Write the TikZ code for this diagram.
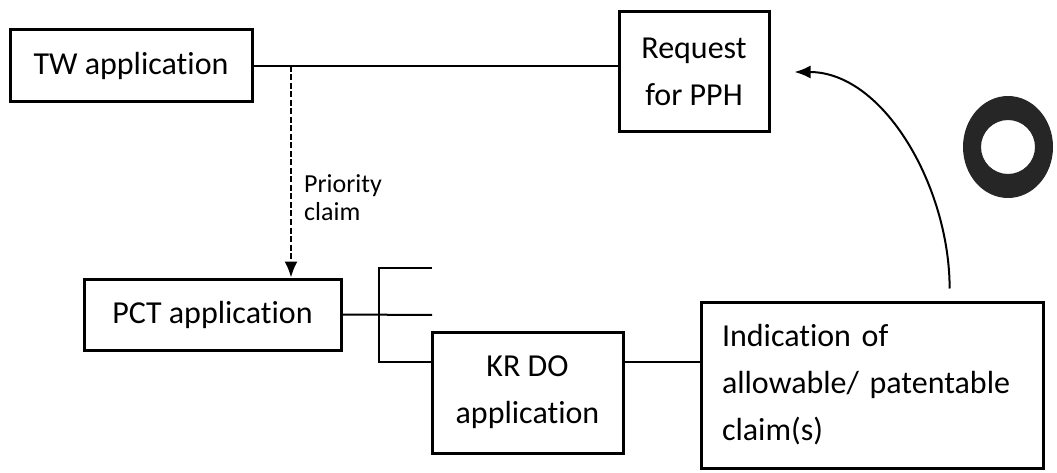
\documentclass[tikz,border=0pt]{standalone}
\usepackage{fontspec}
\setmainfont[Ligatures=NoCommon]{Carlito}
\usetikzlibrary{arrows.meta,calc}

\begin{document}
\begin{tikzpicture}[x=1pt,y=-1pt,
    caja/.style={draw, line width=3pt, inner sep=0pt, align=center,
      font=\fontsize{32}{47}\selectfont},
    enlace/.style={line width=2pt},
    punta/.style={-{Latex[length=16pt,width=13pt]}}]

      % Marco de la figura
      \useasboundingbox (0,0) rectangle (1057,473);

      % Cajas de las solicitudes
      \node[caja, minimum width=242, minimum height=72] (tw) at (131,66) {TW application};
      \node[caja, minimum width=150, minimum height=120] (req) at (694,72) {Request\\for PPH};
      \node[caja, minimum width=257, minimum height=71] (pct) at (212.5,314.5) {PCT application};
      \node[caja, minimum width=191, minimum height=121] (kr) at (527.5,392.5) {KR DO\\application};
      \node[caja, minimum width=342, minimum height=166, text width=300, align=left]
        (ind) at (872,385) {Indication of\\allowable/ patentable\\claim(s)};

      % Puntos auxiliares
      \coordinate (rama) at (291,66);   % salida de la prioridad
      \coordinate (horca) at (379,315); % horquilla de la fase nacional
      \coordinate (arriba) at (432,268);
      \coordinate (medio) at (432,315);

      % TW -> PPH y reivindicacion de prioridad
      \draw[enlace] (tw.east) -- (tw.east -| req.west);
      \draw[enlace, punta, dash pattern=on 6pt off 2.5pt] (rama) -- (rama |- pct.north);
      \node[anchor=west, align=left, inner sep=0pt, font=\fontsize{26}{28}\selectfont]
        (prioridad) at (304,198) {Priority\\claim};

      % PCT -> fases nacionales
      \draw[enlace] (pct.east) -- (medio);
      \draw[enlace] (arriba) -| (horca) |- ($(kr.north west)!0.25!(kr.south west)$);

      % KR -> indicacion -> PPH
      \draw[enlace] ($(kr.north east)!0.25!(kr.south east)$) -- ++(78,0);
      \draw[enlace, punta, shorten <=12pt, shorten >=24pt]
        ($(ind.north west)!0.725!(ind.north east)$) to[out=90, in=0] (req.east);

      % Anillo
      \fill[black!85, even odd rule] (1008,147) ellipse [x radius=45, y radius=51]
        (1008,147) circle [radius=27];

    \end{tikzpicture}
\end{document}
